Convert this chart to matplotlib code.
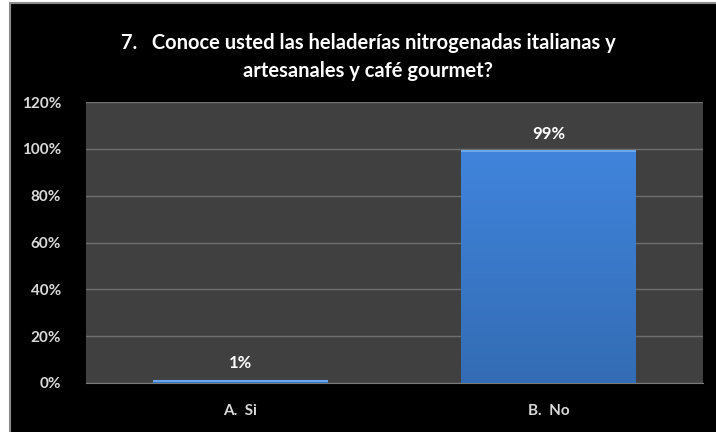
import matplotlib.pyplot as plt
import matplotlib.patches as mpatches
import numpy as np

# datos de la encuesta, pregunta 7
categorias = ["A.  Si", "B.  No"]
porcentajes = [1, 99]
etiquetas = ["1%", "99%"]
titulo = "7.   Conoce usted las heladerías nitrogenadas italianas y\nartesanales y café gourmet?"
yticks = [0, 20, 40, 60, 80, 100, 120]

plt.rcParams['font.family'] = ['Lato', 'DejaVu Sans']

fig = plt.figure(figsize=(7.16, 4.32), dpi=100, facecolor='white')

# marco negro del grafico
marco = mpatches.Rectangle((10 / 716, -0.05), 1.1, 1.05 - 3 / 432, transform=fig.transFigure,
                           facecolor='black', edgecolor='#8c8c8c', linewidth=1.5, zorder=-10)
fig.patches.append(marco)

ax = fig.add_axes([86 / 716, 1 - 383 / 432, (703 - 86) / 716, (383 - 102) / 432])
ax.set_zorder(5)
ax.set_facecolor('#404040')

x = np.arange(len(categorias))
barras = ax.bar(x, porcentajes, width=0.567, color='#3a78cc', zorder=2)

# degradado azul dentro de cada barra
grad = np.linspace(0, 1, 256).reshape(-1, 1)
cmap = plt.matplotlib.colors.LinearSegmentedColormap.from_list('azul', ['#336cb4', '#4084dc'])
for b in barras:
    x0, y0 = b.get_x(), b.get_y()
    w, h = b.get_width(), b.get_height()
    ax.imshow(grad, extent=[x0, x0 + w, y0, y0 + h], origin='lower', aspect='auto',
              cmap=cmap, zorder=3)
    ax.plot([x0, x0 + w], [y0 + h, y0 + h], color='#6aa6ec', linewidth=1.5,
            solid_capstyle='butt', zorder=4)

for xi, v, t in zip(x, porcentajes, etiquetas):
    ax.text(xi, v + 4, t, ha='center', va='bottom', color='white',
            fontsize=12, fontweight='bold')

ax.set_xlim(-0.5, 1.5)
ax.set_ylim(0, 120)
ax.set_yticks(yticks)
ax.set_yticklabels([f"{t}%" for t in yticks])
ax.set_xticks(x)
ax.set_xticklabels(categorias)
ax.grid(axis='y', color='#6e6e6e', linewidth=1, zorder=1)
ax.set_axisbelow(True)
ax.tick_params(axis='both', length=0, colors='#d9d9d9', labelsize=11)
ax.tick_params(axis='y', pad=18)
ax.tick_params(axis='x', pad=15)
for lab in ax.get_xticklabels() + ax.get_yticklabels():
    lab.set_fontweight('bold')
for s in ['top', 'right', 'left']:
    ax.spines[s].set_visible(False)
ax.spines['bottom'].set_color('#7a7a7a')

fig.text(0.5 + 10 / 716, 1 - 57 / 432, titulo, ha='center', va='center', color='white',
         fontsize=14.5, fontweight='bold', linespacing=1.45)

fig.savefig('out.png', dpi=100, facecolor=fig.get_facecolor())
